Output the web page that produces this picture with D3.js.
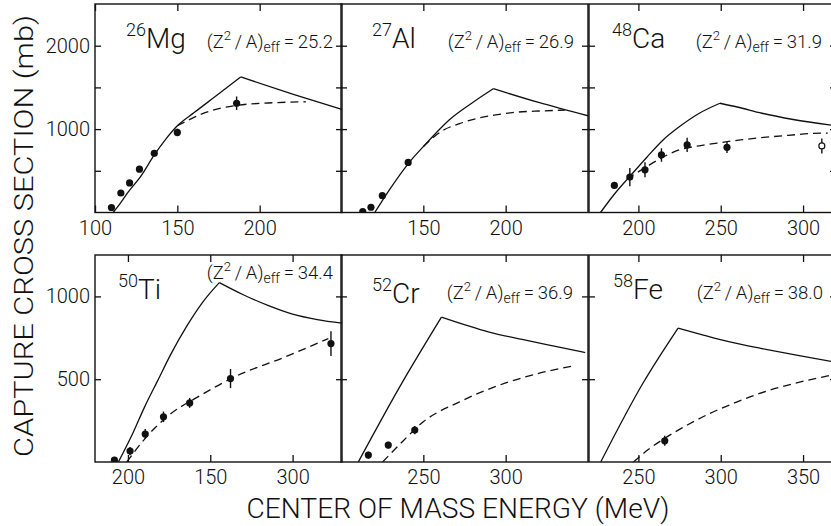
<!DOCTYPE html>
<html><head><meta charset="utf-8">
<script src="https://cdn.jsdelivr.net/npm/d3@7"></script>
<style>
html,body{margin:0;padding:0;background:#fff;}
svg{display:block;}
</style></head>
<body>
<svg id="chart" width="831" height="526"></svg>
<script>
// ---------------- DATA ----------------
const nuclides   = ["Mg","Al","Ca","Ti","Cr","Fe"];
const massNumbers= ["26","27","48","50","52","58"];
const z2aEff     = ["25.2","26.9","31.9","34.4","36.9","38.0"];
const xDomains   = [[100,250],[100,250],[170,320],[180,330],[200,350],[220,370]];
const xTickValues= [[100,150,200],[150,200],[200,250,300],[200,250,300],[250,300],[250,300,350]];
const xTickLabels= [["100","150","200"],["150","200"],["200","250","300"],["200","150","300"],["250","300"],["250","300","350"]];
const yDomainTop = [0,2500];
const yDomainBottom = [0,1250];
const yTicksTop  = [500,1000,1500,2000];
const yLabelsTop = [1000,2000];
const yTicksBottom = [500,1000];
const yLabelsBottom = [500,1000];

// measured points: [energy MeV, cross section mb, error mb]
const mgPoints = [[110,60,0],[115.7,234,0],[121,355,0],[127,520,0],[136,710,0],[150,960,45],[186,1310,80]];
const alPoints = [[113.2,10,0],[118.2,63,0],[125.1,202,0],[140.8,600,40]];
const caPoints = [[185.4,325,0],[194.8,425,110],[204,512,90],[214,690,80],[229.6,810,85],[253.8,782,70]];
const caOpenPoints = [[311.4,798,90]];
const tiPoints = [[191.8,12,0],[201.3,66,25],[210.5,169,30],[221.6,273,32],[237.5,357,30],[262.3,504,58],[323.3,715,75]];
const crPoints = [[216.6,42,20],[228.7,102,20],[244.8,193,25]];
const fePoints = [[266,128,30]];

// solid curves (theory, no friction) [energy, mb]
const mgSolid = [[111,0],[115,100],[120,240],[128,440],[136,690],[143,880],[150,1040],[160,1195],[175,1420],[188.5,1625],[220,1420],[250,1235]];
const alSolid = [[120.5,0],[130,290],[141,590],[150,790],[158,960],[166,1115],[180,1320],[192.5,1485],[220,1320],[250,1160]];
const caSolid = [[177,0],[185,210],[194.8,433],[205,660],[215,870],[225,1030],[237,1190],[249.5,1310],[260,1265],[275,1190],[294,1115],[320,1040]];
const tiSolid = [[194.2,0],[203.4,183],[210,330],[218,490],[226,650],[236,825],[245,960],[255.5,1083],[270,1010],[285,946],[300,893],[315,860],[330,838]];
const crSolid = [[210.5,0],[236,460],[261,875],[290,785],[310,740],[328.7,701],[348.3,661]];
const feSolid = [[227.1,0],[253,480],[274.1,809],[290,765],[305.5,725],[325,685],[346,645],[370,602]];

// dashed curves (theory with friction) [energy, mb]
const mgDashed = [[150,1040],[157,1110],[164,1175],[174,1240],[186,1285],[205,1313],[228,1328]];
const alDashed = [[150,790],[156,900],[162,985],[172,1065],[182,1125],[193,1167],[204,1198],[222,1218],[236,1228]];
const caDashed = [[193,400],[205,550],[215,665],[225.5,755],[237,800],[249.4,837],[262,870],[276,900],[291,925],[306,948],[315,952]];
const tiDashed = [[199.3,0],[210.5,143],[223.7,273],[244.4,404],[264.7,514],[295.3,634],[321.7,745]];
const crDashed = [[225.3,0],[238,130],[250,243],[272,363],[302,484],[320,535],[341,580]];
const feDashed = [[247,0],[256,75],[266,143],[280,225],[293.3,293],[308,355],[323.6,414],[345,475],[367,524]];

const pointsAll = [mgPoints, alPoints, caPoints, tiPoints, crPoints, fePoints];
const openAll   = [[], [], caOpenPoints, [], [], []];
const solidAll  = [mgSolid, alSolid, caSolid, tiSolid, crSolid, feSolid];
const dashedAll = [mgDashed, alDashed, caDashed, tiDashed, crDashed, feDashed];

// ---------------- LAYOUT ----------------
const FONT = 'Roboto,"DejaVu Sans Condensed","DejaVu Sans",sans-serif';
const FW = 300;
const colLeft = [95, 341, 589];
const panelW = 247;
const rows = [{top:4, bottom:212.5}, {top:255, bottom:462}];
// label layout: [nuclide x offset, nuclide baseline, z2a right offset, z2a baseline]
const labelLayout = [
  [31, 48, 238, 48],
  [31, 48, 233, 48],
  [23, 48, 233, 48],
  [23, 299, 238, 279],
  [31, 303, 232, 299],
  [24, 299, 234, 299]
];

const svg = d3.select("#chart");
const defs = svg.append("defs");
const TS = "\u2009";

for (let i = 0; i < 6; i++) {
  const r = Math.floor(i / 3), c = i % 3;
  const row = rows[r];
  const x0 = colLeft[c], x1 = x0 + panelW;
  const x = d3.scaleLinear().domain(xDomains[i]).range([x0, x1]);
  const y = d3.scaleLinear().domain(r === 0 ? yDomainTop : yDomainBottom).range([row.bottom, row.top]);
  const yT = r === 0 ? yTicksTop : yTicksBottom;
  const yL = r === 0 ? yLabelsTop : yLabelsBottom;

  const g = svg.append("g");
  const cid = "clip" + i;
  defs.append("clipPath").attr("id", cid).append("rect")
    .attr("x", x0).attr("y", row.top).attr("width", panelW).attr("height", row.bottom - row.top);

  // frame
  g.append("rect").attr("x", x0).attr("y", row.top).attr("width", panelW).attr("height", row.bottom - row.top)
    .attr("fill", "none").attr("stroke", "#111").attr("stroke-width", 1.4);

  // axes
  const styleAxis = sel => {
    sel.select(".domain").remove();
    sel.selectAll(".tick line").attr("stroke", "#111").attr("stroke-width", 1.3);
    sel.attr("font-family", FONT).attr("font-weight", FW).attr("font-size", 20).attr("color", "#111");
  };
  g.append("g").attr("transform", `translate(0,${row.top})`)
    .call(d3.axisTop(x).tickValues(xTickValues[i]).tickSizeInner(-7).tickSizeOuter(0).tickFormat(""))
    .call(styleAxis);
  g.append("g").attr("transform", `translate(0,${row.bottom})`)
    .call(d3.axisBottom(x).tickValues(xTickValues[i]).tickSizeInner(-7).tickSizeOuter(0).tickPadding(8)
      .tickFormat((d, k) => xTickLabels[i][k]))
    .call(styleAxis);
  g.append("g").attr("transform", `translate(${x0},0)`)
    .call(d3.axisLeft(y).tickValues(yT).tickSizeInner(-6).tickSizeOuter(0).tickPadding(5)
      .tickFormat(d => (c === 0 && yL.includes(d)) ? String(d) : ""))
    .call(styleAxis);
  g.append("g").attr("transform", `translate(${x1},0)`)
    .call(d3.axisRight(y).tickValues(yT).tickSizeInner(-6).tickSizeOuter(0).tickFormat(""))
    .call(styleAxis);

  const plot = g.append("g").attr("clip-path", `url(#${cid})`);
  const line = d3.line().x(d => x(d[0])).y(d => y(d[1])).curve(d3.curveMonotoneX);

  // solid: split at peak to keep the cusp
  const s = solidAll[i];
  let pk = 0; s.forEach((d, k) => { if (d[1] > s[pk][1]) pk = k; });
  [s.slice(0, pk + 1), s.slice(pk)].forEach(seg => {
    if (seg.length > 1) plot.append("path").attr("d", line(seg)).attr("fill", "none")
      .attr("stroke", "#111").attr("stroke-width", 1.3);
  });
  plot.append("path").attr("d", line(dashedAll[i])).attr("fill", "none")
    .attr("stroke", "#111").attr("stroke-width", 1.3).attr("stroke-dasharray", "8,5");

  // error bars + points
  pointsAll[i].concat(openAll[i]).forEach(d => {
    if (d[2] > 0) plot.append("line").attr("x1", x(d[0])).attr("x2", x(d[0]))
      .attr("y1", y(d[1] - d[2])).attr("y2", y(d[1] + d[2])).attr("stroke", "#111").attr("stroke-width", 1.4);
  });
  plot.selectAll("circle.p").data(pointsAll[i]).join("circle")
    .attr("cx", d => x(d[0])).attr("cy", d => y(d[1])).attr("r", 3.6).attr("fill", "#111");
  plot.selectAll("circle.o").data(openAll[i]).join("circle")
    .attr("cx", d => x(d[0])).attr("cy", d => y(d[1])).attr("r", 3).attr("fill", "#fff")
    .attr("stroke", "#111").attr("stroke-width", 1.2);

  // labels
  const L = labelLayout[i];
  const t1 = g.append("text").attr("x", x0 + L[0]).attr("y", L[1]).attr("font-family", FONT)
    .attr("font-weight", FW).attr("fill", "#111");
  t1.append("tspan").attr("font-size", 18).attr("dy", -12).text(massNumbers[i]);
  t1.append("tspan").attr("font-size", 28).attr("dy", 12).text(nuclides[i]);

  const t2 = g.append("text").attr("x", x0 + L[2]).attr("y", L[3]).attr("font-family", FONT)
    .attr("font-weight", FW).attr("fill", "#111").attr("text-anchor", "end").attr("font-size", 18.5);
  t2.append("tspan").text("(Z");
  t2.append("tspan").attr("font-size", 13).attr("dy", -8).text("2");
  t2.append("tspan").attr("dy", 8).text(TS + "/" + TS + "A)");
  t2.append("tspan").attr("font-size", 14).attr("dy", 4).text("eff");
  t2.append("tspan").attr("dy", -4).text(TS + "=" + TS + z2aEff[i]);
}

// axis titles
svg.append("text").attr("transform", "translate(33,236) rotate(-90)")
  .attr("text-anchor", "middle").attr("font-family", FONT).attr("font-weight", FW)
  .attr("font-size", 25).attr("fill", "#111")
  .attr("textLength", 442).attr("lengthAdjust", "spacingAndGlyphs")
  .text("CAPTURE CROSS SECTION (mb)");
svg.append("text").attr("x", 458).attr("y", 518)
  .attr("text-anchor", "middle").attr("font-family", FONT).attr("font-weight", FW)
  .attr("font-size", 28).attr("fill", "#111")
  .attr("textLength", 423).attr("lengthAdjust", "spacingAndGlyphs")
  .text("CENTER OF MASS ENERGY (MeV)");
</script>
</body></html>
